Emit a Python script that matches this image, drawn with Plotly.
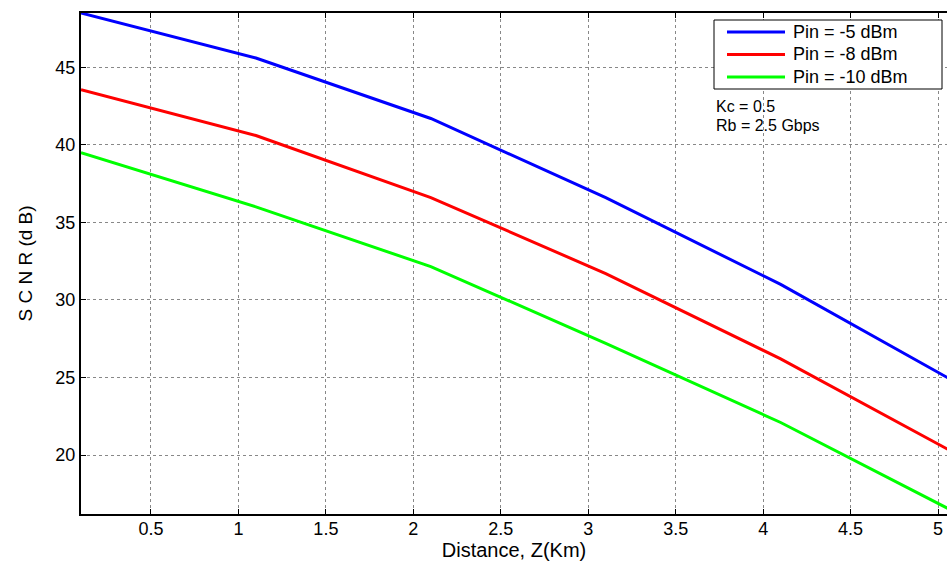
import plotly.graph_objects as go

distance_km = [0.1, 1.1, 2.1, 3.1, 4.1, 5.1]
scnr_pin_m5 = [48.5, 45.6, 41.7, 36.6, 31.0, 24.7]
scnr_pin_m8 = [43.55, 40.6, 36.6, 31.7, 26.2, 20.1]
scnr_pin_m10 = [39.5, 36.0, 32.15, 27.2, 22.1, 16.3]
series_names = ["Pin = -5 dBm", "Pin = -8 dBm", "Pin = -10 dBm"]
series_colors = ["#0000FF", "#FF0000", "#00FF00"]
x_ticks = [0.5, 1, 1.5, 2, 2.5, 3, 3.5, 4, 4.5, 5]
x_tick_labels = ["0.5", "1", "1.5", "2", "2.5", "3", "3.5", "4", "4.5", "5"]
y_ticks = [20, 25, 30, 35, 40, 45]
note_lines = ["Kc = 0.5", "Rb = 2.5 Gbps"]

FONT = "Liberation Sans, Arial, sans-serif"

FIG_W, FIG_H = 947, 561
PX0, PX1, PY0, PY1 = 81, 947, 13, 514  # plot area in pixels


def px(x):
    return (x - PX0) / (PX1 - PX0)


def py(y):
    return (PY1 - y) / (PY1 - PY0)


fig = go.Figure()
for name, vals, col in zip(series_names, [scnr_pin_m5, scnr_pin_m8, scnr_pin_m10], series_colors):
    fig.add_trace(go.Scatter(x=distance_km, y=vals, mode="lines", name=name,
                             line=dict(color=col, width=3), showlegend=False))

# legend box (drawn by hand to match the original's proportions)
fig.add_shape(type="rect", xref="paper", yref="paper",
              x0=px(714), x1=px(942), y0=py(89), y1=py(20),
              line=dict(color="black", width=1), fillcolor="white", layer="above")
for i, (name, col) in enumerate(zip(series_names, series_colors)):
    yy = 32 + i * 22.5
    fig.add_shape(type="line", xref="paper", yref="paper",
                  x0=px(727), x1=px(785), y0=py(yy), y1=py(yy),
                  line=dict(color=col, width=3), layer="above")
    fig.add_annotation(xref="paper", yref="paper", x=px(791), y=py(yy),
                       xanchor="left", yanchor="middle", showarrow=False,
                       text=name, font=dict(family=FONT, size=18, color="black"))

for i, t in enumerate(note_lines):
    fig.add_annotation(xref="paper", yref="paper", x=px(714), y=py(106.5 + i * 19),
                       xanchor="left", yanchor="middle", showarrow=False, align="left",
                       text=t, font=dict(family=FONT, size=16, color="black"))

fig.update_layout(
    width=FIG_W, height=FIG_H,
    margin=dict(l=PX0, r=FIG_W - PX1, t=PY0, b=FIG_H - PY1),
    paper_bgcolor="white", plot_bgcolor="white",
    font=dict(family=FONT, size=18, color="black"),
    showlegend=False,
    hovermode=False,
    xaxis=dict(range=[0.1, 5.051], tickvals=x_ticks, ticktext=x_tick_labels,
               showgrid=True, gridcolor="#888", griddash="dot", gridwidth=1,
               showline=True, linecolor="black", linewidth=2, mirror="ticks",
               ticks="inside", ticklen=5, tickcolor="black", zeroline=False,
               automargin=False, ticklabelstandoff=-3,
               title=dict(text="Distance, Z(Km)", font=dict(size=20), standoff=3),
               tickfont=dict(size=18)),
    yaxis=dict(range=[16.2, 48.5], tickvals=y_ticks,
               showgrid=True, gridcolor="#888", griddash="dot", gridwidth=1,
               showline=True, linecolor="black", linewidth=2, mirror=False,
               ticks="inside", ticklen=5, tickcolor="black", zeroline=False,
               automargin=False,
               title=dict(text="S C N R (d B)", font=dict(size=19), standoff=18),
               tickfont=dict(size=18)),
)

fig.write_html("out.html",
               config={"displayModeBar": False},
               post_script="document.body.style.margin='0';document.body.style.overflow='hidden';")
